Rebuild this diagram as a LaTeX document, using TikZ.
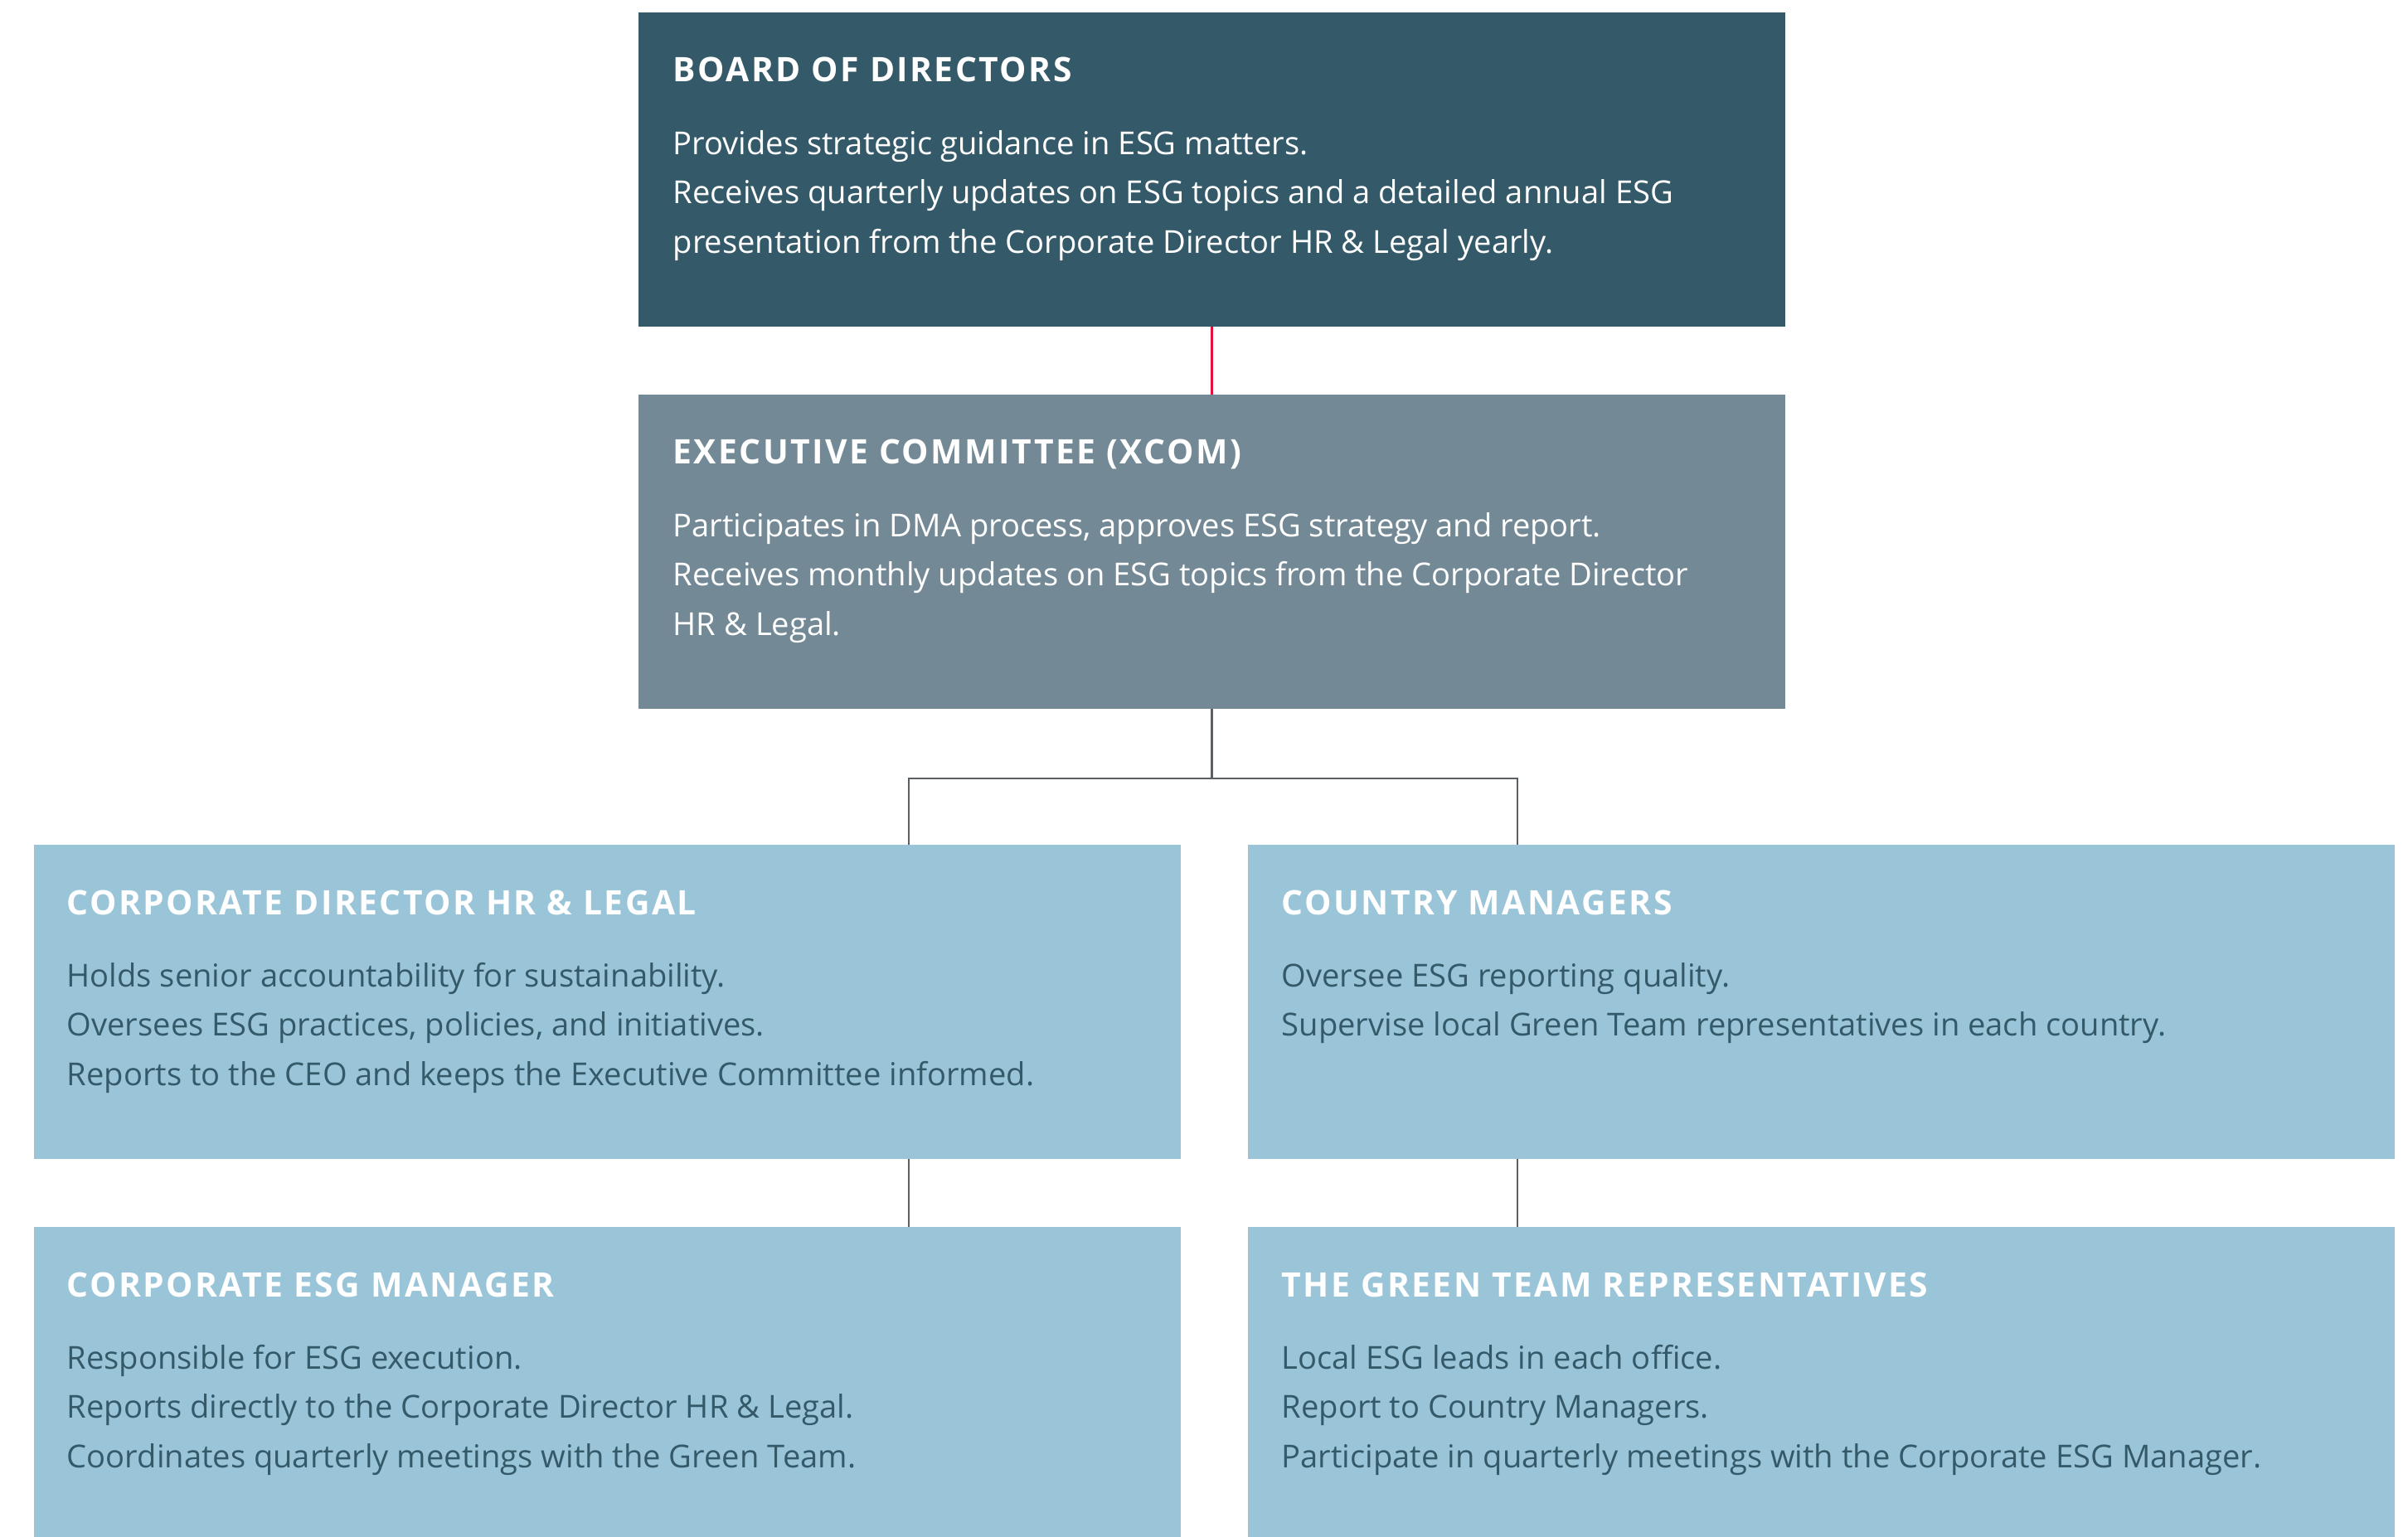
\documentclass[tikz,border=0pt]{standalone}
\usepackage{fontspec}
\setmainfont{Open Sans}
\newfontfamily\headfont[LetterSpace=6]{Open Sans}
\usetikzlibrary{positioning,calc}
\definecolor{boardblue}{HTML}{345A6A}
\definecolor{xcomgrey}{HTML}{738A96}
\definecolor{paleblue}{HTML}{9AC5D9}
\definecolor{linkred}{HTML}{E2123C}
\definecolor{linkgrey}{HTML}{5A5F63}

\begin{document}
\begin{tikzpicture}[
    box/.style={anchor=north west, minimum width=13.83cm, minimum height=3.79cm,
      inner sep=0pt, outer sep=0pt},
    head/.style={anchor=base west, inner sep=0pt,
      font=\headfont\bfseries\fontsize{11.6}{14}\selectfont},
    body/.style={anchor=north west, inner sep=0pt, align=left,
      font=\fontsize{10.85}{16.9}\selectfont},
    link/.style={draw=linkgrey, line width=0.8pt}]
    \useasboundingbox (0,0) rectangle (29.04,-18.54);
    % boxes
    \node[box, fill=boardblue] (board) at (7.70,-0.15) {};
    \node[box, fill=xcomgrey, below=0.82cm of board] (xcom) {};
    \node[box, fill=paleblue] (cdhr) at (0.41,-10.19) {};
    \node[box, fill=paleblue, right=0.81cm of cdhr] (country) {};
    \node[box, fill=paleblue, below=0.82cm of cdhr] (esgmgr) {};
    \node[box, fill=paleblue, below=0.82cm of country] (green) {};
    % texts
    \node[head, text=white] (board-h) at ($(board.north west)+(0.41,-0.84)$) {BOARD OF DIRECTORS};
    \node[body, text=white] (board-b) at ($(board.north west)+(0.41,-1.29)$)
      {\strut Provides strategic guidance in ESG matters.\\
       Receives quarterly updates on ESG topics and a detailed annual ESG\\
       presentation from the Corporate Director HR \& Legal yearly.};
    \node[head, text=white] (xcom-h) at ($(xcom.north west)+(0.41,-0.84)$) {EXECUTIVE COMMITTEE (XCOM)};
    \node[body, text=white] (xcom-b) at ($(xcom.north west)+(0.41,-1.29)$)
      {\strut Participates in DMA process, approves ESG strategy and report.\\
       Receives monthly updates on ESG topics from the Corporate Director\\
       HR \& Legal.};
    \node[head, text=white] (cdhr-h) at ($(cdhr.north west)+(0.39,-0.84)$) {CORPORATE DIRECTOR HR \& LEGAL};
    \node[body, text=boardblue] (cdhr-b) at ($(cdhr.north west)+(0.39,-1.29)$)
      {\strut Holds senior accountability for sustainability.\\
       Oversees ESG practices, policies, and initiatives.\\
       Reports to the CEO and keeps the Executive Committee informed.};
    \node[head, text=white] (country-h) at ($(country.north west)+(0.40,-0.84)$) {COUNTRY MANAGERS};
    \node[body, text=boardblue] (country-b) at ($(country.north west)+(0.40,-1.29)$)
      {\strut Oversee ESG reporting quality.\\
       Supervise local Green Team representatives in each country.};
    \node[head, text=white] (esgmgr-h) at ($(esgmgr.north west)+(0.39,-0.84)$) {CORPORATE ESG MANAGER};
    \node[body, text=boardblue] (esgmgr-b) at ($(esgmgr.north west)+(0.39,-1.29)$)
      {\strut Responsible for ESG execution.\\
       Reports directly to the Corporate Director HR \& Legal.\\
       Coordinates quarterly meetings with the Green Team.};
    \node[head, text=white] (green-h) at ($(green.north west)+(0.40,-0.84)$) {THE GREEN TEAM REPRESENTATIVES};
    \node[body, text=boardblue] (green-b) at ($(green.north west)+(0.40,-1.29)$)
      {\strut Local ESG leads in each office.\\
       Report to Country Managers.\\
       Participate in quarterly meetings with the Corporate ESG Manager.};
    % connectors
    \coordinate (ljoin) at (10.96,-9.39);
    \coordinate (rjoin) at (18.30,-9.39);
    \draw[draw=linkred, line width=0.8pt] (board.south) -- (xcom.north);
    \draw[link] (xcom.south) |- (ljoin) -- (ljoin |- cdhr.north);
    \draw[link] (xcom.south) |- (rjoin) -- (rjoin |- country.north);
    \draw[link] (ljoin |- cdhr.south) -- (ljoin |- esgmgr.north);
    \draw[link] (rjoin |- country.south) -- (rjoin |- green.north);
\end{tikzpicture}
\end{document}
